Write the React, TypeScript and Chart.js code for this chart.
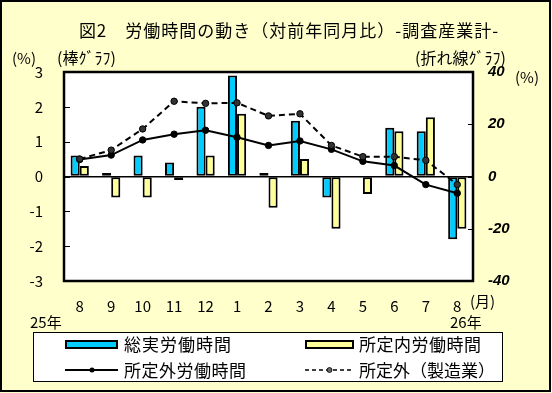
import React, { useEffect, useRef } from 'react';
import { Chart, registerables } from 'chart.js';

Chart.register(...registerables);

const months = ['8', '9', '10', '11', '12', '1', '2', '3', '4', '5', '6', '7', '8'];
const totalHours = [0.6, 0.1, 0.6, 0.4, 2.0, 2.9, 0.1, 1.6, -0.6, 0.0, 1.4, 1.3, -1.8];
const scheduledHours = [0.3, -0.6, -0.6, -0.1, 0.6, 1.8, -0.9, 0.5, -1.5, -0.5, 1.3, 1.7, -1.5];
const overtimeHours = [6.5, 8.2, 14.0, 16.2, 17.7, 15.0, 11.9, 13.6, 10.4, 5.8, 4.2, -3.1, -6.4];
const overtimeMfg = [6.7, 10.1, 18.2, 28.8, 28.0, 28.2, 23.2, 24.0, 11.9, 7.6, 7.6, 6.2, -3.1];

const titleText = '図2\u3000労働時間の動き（対前年同月比）-調査産業計-';
const labelBar = '総実労働時間';
const labelScheduled = '所定内労働時間';
const labelOvertime = '所定外労働時間';
const labelMfg = '所定外（製造業）';

const JP = '"Noto Sans CJK JP", "Noto Sans", sans-serif';

function Txt(props: { text: string; left: number; cy: number; size: number; style?: any }) {
  const { text, left, cy, size, style } = props;
  const lh = Math.round(size * 1.4);
  return (
    <div
      style={{
        position: 'absolute',
        left,
        top: cy - lh / 2,
        fontSize: size,
        lineHeight: lh + 'px',
        fontFamily: JP,
        whiteSpace: 'nowrap',
        color: '#000',
        ...style,
      }}
    >
      {text}
    </div>
  );
}

export default function App() {
  const ref = useRef<HTMLCanvasElement>(null);

  useEffect(() => {
    document.body.style.margin = '0';
    const canvas = ref.current!;
    const framePlugin = {
      id: 'framePlugin',
      beforeDraw(chart: any) {
        const { ctx, chartArea: a } = chart;
        ctx.save();
        ctx.fillStyle = '#FFFFFF';
        ctx.fillRect(a.left, a.top, a.right - a.left, a.bottom - a.top);
        ctx.restore();
      },
      afterDraw(chart: any) {
        const { ctx, chartArea: a } = chart;
        ctx.save();
        ctx.strokeStyle = '#000';
        ctx.lineWidth = 1;
        const yl = chart.scales.y;
        yl.ticks.forEach((t: any) => {
          const py = Math.round(yl.getPixelForValue(t.value)) + 0.5;
          ctx.beginPath();
          ctx.moveTo(a.left, py);
          ctx.lineTo(a.left + 6, py);
          ctx.stroke();
        });
        const yr = chart.scales.y2;
        yr.ticks.forEach((t: any) => {
          const py = Math.round(yr.getPixelForValue(t.value)) + 0.5;
          ctx.beginPath();
          ctx.moveTo(a.right - 5, py);
          ctx.lineTo(a.right, py);
          ctx.stroke();
        });
        ctx.lineWidth = 2.5;
        ctx.strokeRect(a.left, a.top, a.right - a.left, a.bottom - a.top);
        ctx.restore();
      },
    };

    const chart = new Chart(canvas, {
      type: 'bar',
      data: {
        labels: months,
        datasets: [
          {
            type: 'line',
            label: labelOvertime,
            data: overtimeHours,
            yAxisID: 'y2',
            borderColor: '#000',
            borderWidth: 2,
            pointRadius: 3.2,
            pointBackgroundColor: '#000',
            pointBorderColor: '#000',
            pointBorderWidth: 1,
            tension: 0,
            order: 1,
          } as any,
          {
            type: 'line',
            label: labelMfg,
            data: overtimeMfg,
            yAxisID: 'y2',
            borderColor: '#000',
            borderWidth: 2,
            borderDash: [6, 4],
            pointRadius: 3.2,
            pointBackgroundColor: '#333',
            pointBorderColor: '#000',
            pointBorderWidth: 1,
            tension: 0,
            order: 0,
          } as any,
          {
            type: 'bar',
            label: labelBar,
            data: totalHours,
            yAxisID: 'y',
            backgroundColor: '#00CCFF',
            borderColor: '#000',
            borderWidth: 2,
            borderSkipped: false,
            categoryPercentage: 0.58,
            barPercentage: 1.0,
            order: 2,
          } as any,
          {
            type: 'bar',
            label: labelScheduled,
            data: scheduledHours,
            yAxisID: 'y',
            backgroundColor: '#FFFF99',
            borderColor: '#000',
            borderWidth: 2,
            borderSkipped: false,
            categoryPercentage: 0.58,
            barPercentage: 1.0,
            order: 2,
          } as any,
        ],
      },
      options: {
        responsive: false,
        animation: false,
        devicePixelRatio: 1,
        layout: { padding: { top: 72, left: 0, right: 0, bottom: 0 } },
        plugins: {
          legend: { display: false },
          tooltip: { enabled: false },
          title: { display: false },
        },
        scales: {
          x: {
            type: 'category',
            grid: { display: false },
            border: { display: false },
            ticks: {
              color: '#000',
              font: { family: JP, size: 15 },
              padding: 8,
              maxRotation: 0,
              autoSkip: false,
            },
            afterFit: (s: any) => {
              s.height = 112;
            },
          },
          y: {
            position: 'left',
            min: -3,
            max: 3,
            ticks: {
              stepSize: 1,
              color: '#000',
              font: { family: JP, size: 15 },
              padding: 21,
            },
            grid: {
              drawTicks: false,
              color: (c: any) => (c.tick && c.tick.value === 0 ? '#000' : 'rgba(0,0,0,0)'),
              lineWidth: 1.5,
            },
            border: { display: false },
            afterFit: (s: any) => {
              s.width = 64;
            },
          },
          y2: {
            position: 'right',
            min: -40,
            max: 40,
            ticks: {
              stepSize: 20,
              color: '#000',
              font: { family: '"Liberation Sans", Arial, sans-serif', size: 15, style: 'italic', weight: 'bold' },
              padding: 15,
            },
            grid: { display: false, drawTicks: false },
            border: { display: false },
            afterFit: (s: any) => {
              s.width = 79;
            },
          },
        },
      } as any,
      plugins: [framePlugin],
    });
    return () => chart.destroy();
  }, []);

  return (
    <div
      style={{
        position: 'absolute',
        left: 0,
        top: 0,
        width: 552,
        height: 393,
        background: '#FFFFCC',
        overflow: 'hidden',
      }}
    >
      <canvas ref={ref} width={552} height={393} style={{ position: 'absolute', left: 0, top: 0, width: 552, height: 393 }} />
      <div
        style={{
          position: 'absolute',
          left: 0,
          top: 0,
          width: 551,
          height: 392,
          boxSizing: 'border-box',
          border: '2px solid #000',
          pointerEvents: 'none',
        }}
      />
      <div
        style={{
          position: 'absolute',
          left: 0,
          top: 30 - 12,
          width: 578,
          textAlign: 'center',
          fontSize: 17,
          lineHeight: '24px',
          fontFamily: JP,
          letterSpacing: 1,
          whiteSpace: 'nowrap',
        }}
      >
        {titleText}
      </div>
      <Txt text="(%)" left={12} cy={57} size={15} />
      <Txt text="(棒ｸﾞﾗﾌ)" left={57} cy={57} size={16} />
      <Txt text="(折れ線ｸﾞﾗﾌ)" left={415} cy={57} size={16} />
      <Txt text="(%)" left={515} cy={76} size={15} />
      <Txt text="(月)" left={470} cy={300} size={15} />
      <Txt text="25年" left={30} cy={321} size={15} />
      <Txt text="26年" left={450} cy={321} size={15} />

      <div
        style={{
          position: 'absolute',
          left: 33,
          top: 332,
          width: 470,
          height: 50,
          boxSizing: 'border-box',
          border: '1px solid #000',
          background: '#FFFFFF',
        }}
      />
      <div
        style={{
          position: 'absolute',
          left: 65,
          top: 340,
          width: 53,
          height: 9,
          boxSizing: 'border-box',
          border: '2px solid #000',
          background: '#00CCFF',
        }}
      />
      <Txt text={labelBar} left={124} cy={344} size={17} style={{ letterSpacing: 1 }} />
      <div
        style={{
          position: 'absolute',
          left: 305,
          top: 340,
          width: 49,
          height: 9,
          boxSizing: 'border-box',
          border: '2px solid #000',
          background: '#FFFF99',
        }}
      />
      <Txt text={labelScheduled} left={359} cy={344} size={17} style={{ letterSpacing: 0.5 }} />
      <svg style={{ position: 'absolute', left: 60, top: 362 }} width={62} height={16}>
        <line x1={5} y1={8} x2={58} y2={8} stroke="#000" strokeWidth={2} />
        <circle cx={32} cy={8} r={2.5} fill="#000" />
      </svg>
      <Txt text={labelOvertime} left={124} cy={370} size={17} style={{ letterSpacing: 0.5 }} />
      <svg style={{ position: 'absolute', left: 300, top: 362 }} width={60} height={16}>
        <line x1={5} y1={8} x2={54} y2={8} stroke="#000" strokeWidth={1.5} strokeDasharray="4 3" />
        <circle cx={29.5} cy={8} r={2.5} fill="#666" stroke="#000" strokeWidth={0.8} />
      </svg>
      <Txt text={labelMfg} left={359} cy={370} size={17} style={{ letterSpacing: 0 }} />
    </div>
  );
}
